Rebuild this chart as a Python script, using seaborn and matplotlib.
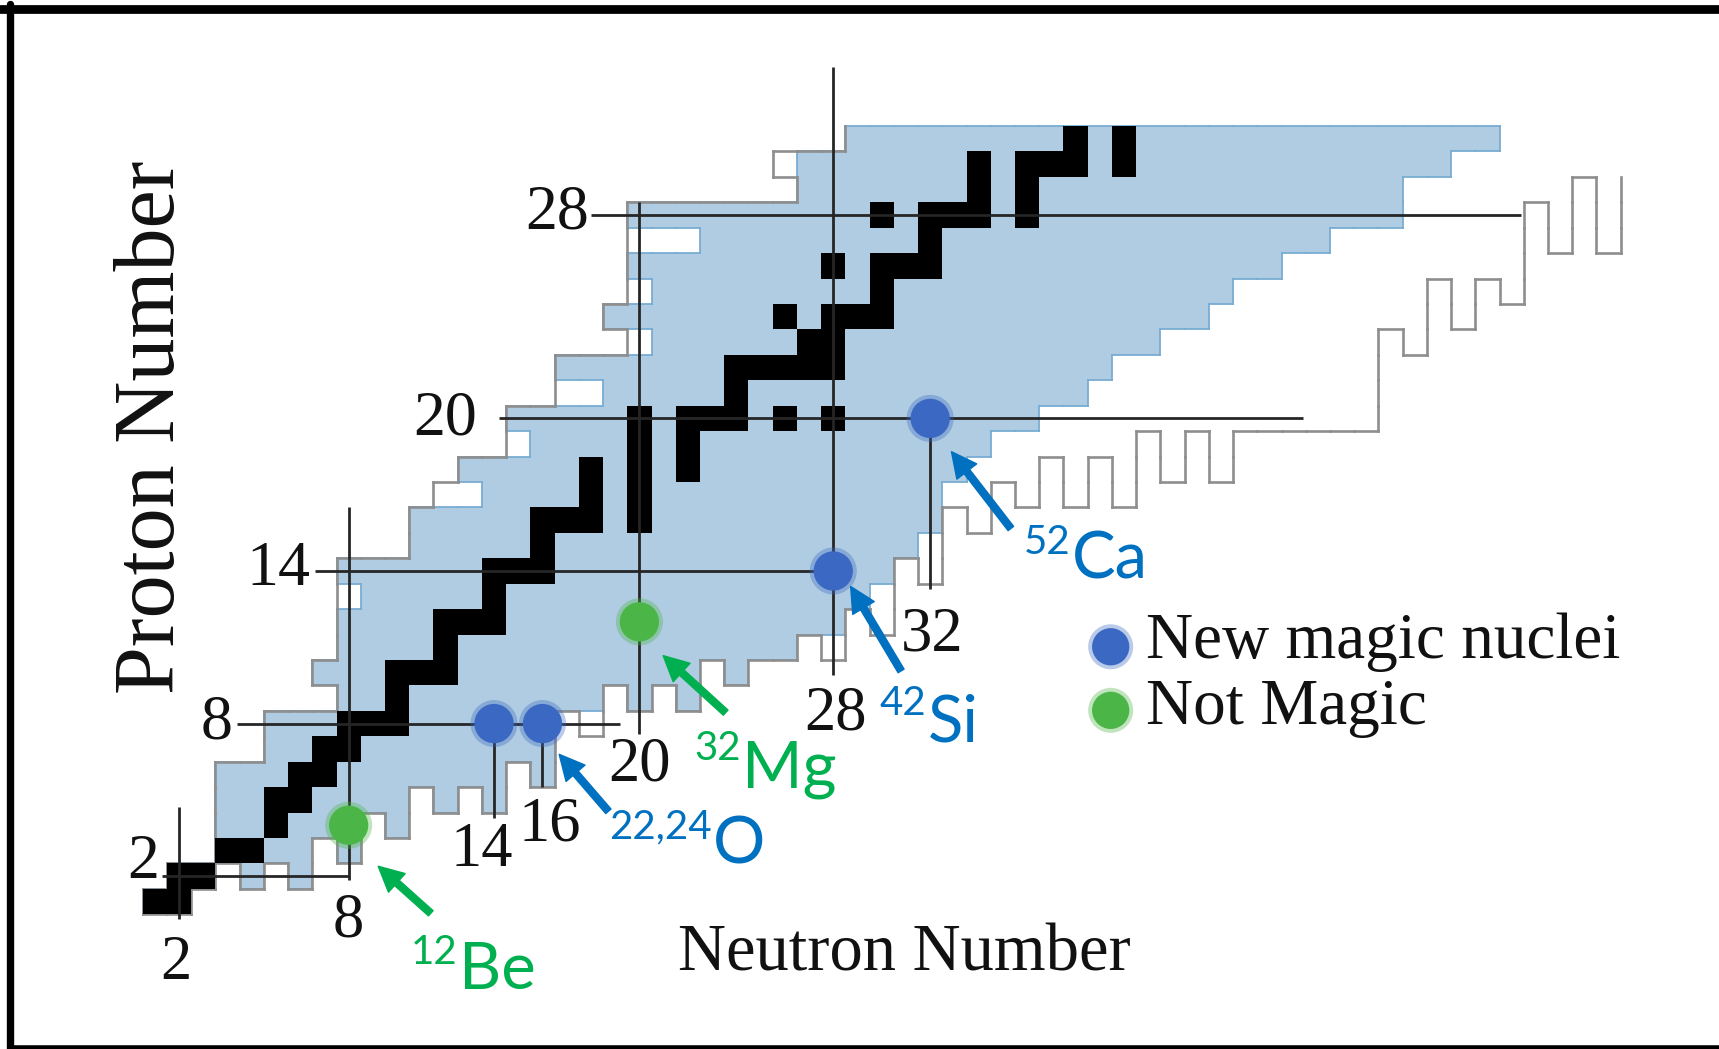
import numpy as np
import pandas as pd
import matplotlib
matplotlib.use("Agg")
import matplotlib.pyplot as plt
import seaborn as sns
from matplotlib.collections import LineCollection
from matplotlib.lines import Line2D
from matplotlib.colors import ListedColormap

# ------------------------------------------------------------------ data
# proton rows (Z) and their neutron ranges
Z_rows = list(range(1, 32))
nmin_known = [0, 1, 3, 3, 3, 3, 5, 5, 8, 7, 8, 8, 9, 8, 11, 11, 14, 13, 16, 15,
              19, 17, 21, 19, 21, 20, 23, 20, 27, 27, 29]
nmin_bound = [0, 1, 3, 3, 3, 3, 5, 5, 8, 7, 8, 8, 8, 8, 11, 11, 12, 13, 15, 15,
              17, 17, 20, 19, 20, 20, 20, 20, 27, 26, 29]
nmax_known = [1, 6, 8, 10, 14, 16, 16, 16, 22, 24, 26, 28, 29, 30, 31, 32, 32, 33,
              34, 36, 38, 39, 41, 43, 44, 46, 48, 51, 51, 53, 55]
# neutron columns (N) and the lowest bound Z (neutron-rich side, predicted)
N_cols = list(range(0, 61))
zmin_bound = [1, 1, 2, 3, 2, 3, 2, 4, 3, 5, 5, 6, 5, 6, 5, 7, 6, 9, 8, 10, 9, 10,
              9, 11, 10, 11, 11, 12, 11, 13, 12, 15, 14, 17, 16, 18, 17, 19, 17, 19,
              17, 20, 18, 20, 18, 20, 20, 20, 20, 20, 20, 24, 23, 26, 24, 26, 25,
              29, 27, 30, 27]
extra_known = [(10, 4)]          # 14Be
extra_bound = [(10, 4)]

# stable nuclei (black)
stable_Z = list(range(1, 32))
stable_N = [[0, 1], [1, 2], [3, 4], [5], [5, 6], [6, 7], [7, 8], [8, 9, 10], [10],
            [10, 11, 12], [12], [12, 13, 14], [14], [14, 15, 16], [16],
            [16, 17, 18, 20], [18, 20], [18, 20, 22], [20, 22],
            [20, 22, 23, 24, 26, 28], [24], [24, 25, 26, 27, 28], [27, 28],
            [26, 28, 29, 30], [30], [28, 30, 31, 32], [32],
            [30, 32, 33, 34, 36], [34, 36], [34, 36, 37, 38, 40], [38, 40]]

# highlighted nuclei
dot_N = [14, 16, 28, 32, 8, 20]
dot_Z = [8, 8, 14, 20, 4, 12]
dot_kind = ["New magic nuclei"] * 4 + ["Not Magic"] * 2

# magic-number guide lines
hline_Z = [2, 8, 14, 20, 28]
hline_from = [0.3, 3.4, 6.6, 14.2, 18.0]
hline_to = [8.0, 19.2, 28.0, 47.4, 56.4]
vline_N = [1.0, 8, 14, 16, 20, 28, 32]
vline_from = [0.3, 1.85, 4.3, 5.5, 7.6, 9.9, 13.3]
vline_to = [4.7, 16.5, 8.0, 8.0, 28.5, 33.8, 20.0]

# tick-like labels
ylab_text = ["28", "20", "14", "8", "2"]
ylab_pos = [(17.9, 28.05), (13.3, 19.94), (6.4, 14.04), (3.2, 8.0), (0.17, 2.5)]
xlab_text = ["2", "8", "14", "16", "20", "28", "32"]
xlab_pos = [(0.85, -1.45), (8.0, 0.2), (13.5, 3.0), (16.3, 4.0), (20.0, 6.35),
            (28.1, 8.35), (32.1, 11.45)]

# coloured nucleus labels
BLUE = "#0070C0"
GREEN = "#00B050"
iso_sup = ["12", "32", "22,24", "42", "52"]
iso_sym = ["Be", "Mg", "O", "Si", "Ca"]
iso_x = [12.55, 24.25, 23.05, 31.9, 37.85]
iso_base = [-2.45, 5.5, 2.5, 7.3, 13.7]
iso_supbase = [-1.45, 6.55, 3.5, 8.35, 14.65]
iso_col = [GREEN, GREEN, BLUE, BLUE, BLUE]
arrow_tail = [(11.39, 0.54), (23.56, 8.43), (18.72, 4.55), (30.8, 10.07), (35.33, 15.67)]
arrow_head = [(9.22, 2.39), (20.98, 10.67), (16.69, 6.79), (28.72, 13.39), (32.88, 18.69)]

legend_labels = ["New magic nuclei", "Not Magic"]
legend_dot = [(39.45, 11.02), (39.45, 8.52)]
legend_text = [(40.9, 11.2), (40.9, 8.62)]

# ------------------------------------------------------------------ sets
G = set()
for zi, Z in enumerate(Z_rows):
    for N in N_cols:
        if N >= nmin_bound[zi] and Z >= zmin_bound[N]:
            G.add((N, Z))
G.update(extra_bound)
B = set()
for zi, Z in enumerate(Z_rows):
    for N in range(nmin_known[zi], nmax_known[zi] + 1):
        if (N, Z) in G:
            B.add((N, Z))
B.update(extra_known)
S = set()
for Z, Ns in zip(stable_Z, stable_N):
    for N in Ns:
        S.add((N, Z))


def edges(cells, skip=None):
    segs = []
    for (n, z) in cells:
        cand = []
        if (n - 1, z) not in cells:
            cand.append(("l", [(n - .5, z - .5), (n - .5, z + .5)]))
        if (n + 1, z) not in cells:
            cand.append(("r", [(n + .5, z - .5), (n + .5, z + .5)]))
        if (n, z - 1) not in cells:
            cand.append(("b", [(n - .5, z - .5), (n + .5, z - .5)]))
        if (n, z + 1) not in cells:
            cand.append(("t", [(n - .5, z + .5), (n + .5, z + .5)]))
        for side, s in cand:
            if skip is not None and skip(n, z, side):
                continue
            segs.append(s)
    return segs


def grid_mask(cells):
    arr = np.zeros((len(Z_rows), len(N_cols)))
    for (n, z) in cells:
        if 0 <= n <= 60 and 1 <= z <= 31:
            arr[z - 1, n] = 1
    return np.ma.masked_equal(arr, 0)


# ------------------------------------------------------------------ figure
sns.set_theme(style="white")
SERIF = ["Liberation Serif", "DejaVu Serif"]
SANS = ["Lato", "DejaVu Sans"]
plt.rcParams["font.family"] = SERIF

fig = plt.figure(figsize=(17.19, 10.49), dpi=100)
ax = fig.add_axes([0, 0, 1, 1])
ax.set_facecolor("white")

Xe = np.arange(-0.5, 61.0, 1.0)
Ye = np.arange(0.5, 32.0, 1.0)
ax.pcolormesh(Xe, Ye, grid_mask(B), cmap=ListedColormap(["#b0cce2"]),
              vmin=0, vmax=1, shading="flat", antialiased=False, zorder=1)
ax.add_collection(LineCollection(edges(B), colors="#78acd3", linewidths=1.3,
                                 capstyle="projecting", zorder=2))


def skip_g(n, z, side):
    if side == "t" and z == 31:
        return True
    if side in ("t", "r") and n >= 56 and z >= 30:
        return True
    return False


ax.add_collection(LineCollection(edges(G, skip_g), colors="#8e8e8e",
                                 linewidths=1.9, capstyle="projecting", zorder=3))
ax.pcolormesh(Xe, Ye, grid_mask(S), cmap=ListedColormap(["black"]),
              vmin=0, vmax=1, shading="flat", antialiased=False, zorder=4)

# magic lines
for z, a, b in zip(hline_Z, hline_from, hline_to):
    ax.plot([a, b], [z, z], color="#262626", lw=2.0, zorder=5,
            solid_capstyle="butt")
for n, a, b in zip(vline_N, vline_from, vline_to):
    ax.plot([n, n], [a, b], color="#262626", lw=2.0, zorder=5,
            solid_capstyle="butt")

# dots (seaborn)
df = pd.DataFrame({"N": dot_N, "Z": dot_Z, "kind": dot_kind})
pal = {"New magic nuclei": "#3a68c2", "Not Magic": "#4bb647"}
sns.scatterplot(data=df, x="N", y="Z", hue="kind", palette=pal, s=1150,
                alpha=0.35, edgecolor="none", legend=False, ax=ax, zorder=6)
sns.scatterplot(data=df, x="N", y="Z", hue="kind", palette=pal, s=800,
                edgecolor="none", legend=False, ax=ax, zorder=6)
dleg = pd.DataFrame({"N": [p[0] for p in legend_dot], "Z": [p[1] for p in legend_dot],
                     "kind": legend_labels})
sns.scatterplot(data=dleg, x="N", y="Z", hue="kind", palette=pal, s=1050,
                alpha=0.35, edgecolor="none", legend=False, ax=ax, zorder=6)
sns.scatterplot(data=dleg, x="N", y="Z", hue="kind", palette=pal, s=720,
                edgecolor="none", legend=False, ax=ax, zorder=6)

# labels
for t, (x, y) in zip(ylab_text, ylab_pos):
    ax.text(x, y, t, ha="right", va="center", fontsize=46, family=SERIF,
            color="#111111", zorder=8)
for t, (x, y) in zip(xlab_text, xlab_pos):
    ax.text(x, y, t, ha="center", va="center", fontsize=45, family=SERIF,
            color="#111111", zorder=8)

ax.text(-0.05, 19.64, "Proton Number", rotation=90, ha="center", va="center",
        fontsize=62, family=SERIF, color="#111111", zorder=8)
ax.text(30.94, -1.05, "Neutron Number", ha="center", va="center",
        fontsize=48, family=SERIF, color="#111111", zorder=8)
for t, (x, y) in zip(legend_labels, legend_text):
    ax.text(x, y, t, ha="left", va="center", fontsize=47, family=SERIF,
            color="#111111", zorder=8)

for sup, sym, x, yb, ys, c in zip(iso_sup, iso_sym, iso_x, iso_base, iso_supbase, iso_col):
    ax.text(x, yb, sym, ha="left", va="baseline", fontsize=47, family=SANS,
            color=c, zorder=8)
    ax.text(x - 0.05, ys, sup, ha="right", va="baseline", fontsize=29,
            family=SANS, color=c, zorder=8)

for (tx, ty), (hx, hy), c in zip(arrow_tail, arrow_head, iso_col):
    ax.annotate("", xy=(hx, hy), xytext=(tx, ty),
                arrowprops=dict(arrowstyle="simple,head_length=0.9,head_width=0.9,tail_width=0.25",
                                color=c, mutation_scale=20, shrinkA=0, shrinkB=0),
                zorder=7)

ax.set_xlim(-6.389, 64.556)
ax.set_ylim(-4.797, 36.453)
ax.axis("off")

# outer frame (top, left, bottom)
fig.add_artist(Line2D([0.0, 1.0], [1 - 8.5 / 1049] * 2, transform=fig.transFigure,
                      color="black", lw=6.3))
fig.add_artist(Line2D([10.3 / 1719] * 2, [0.0, 1 - 4 / 1049], transform=fig.transFigure,
                      color="black", lw=5.3))
fig.add_artist(Line2D([10.3 / 1719, 1.0], [1.5 / 1049] * 2, transform=fig.transFigure,
                      color="black", lw=4.0))

fig.savefig("out.png", dpi=100, facecolor="white")
